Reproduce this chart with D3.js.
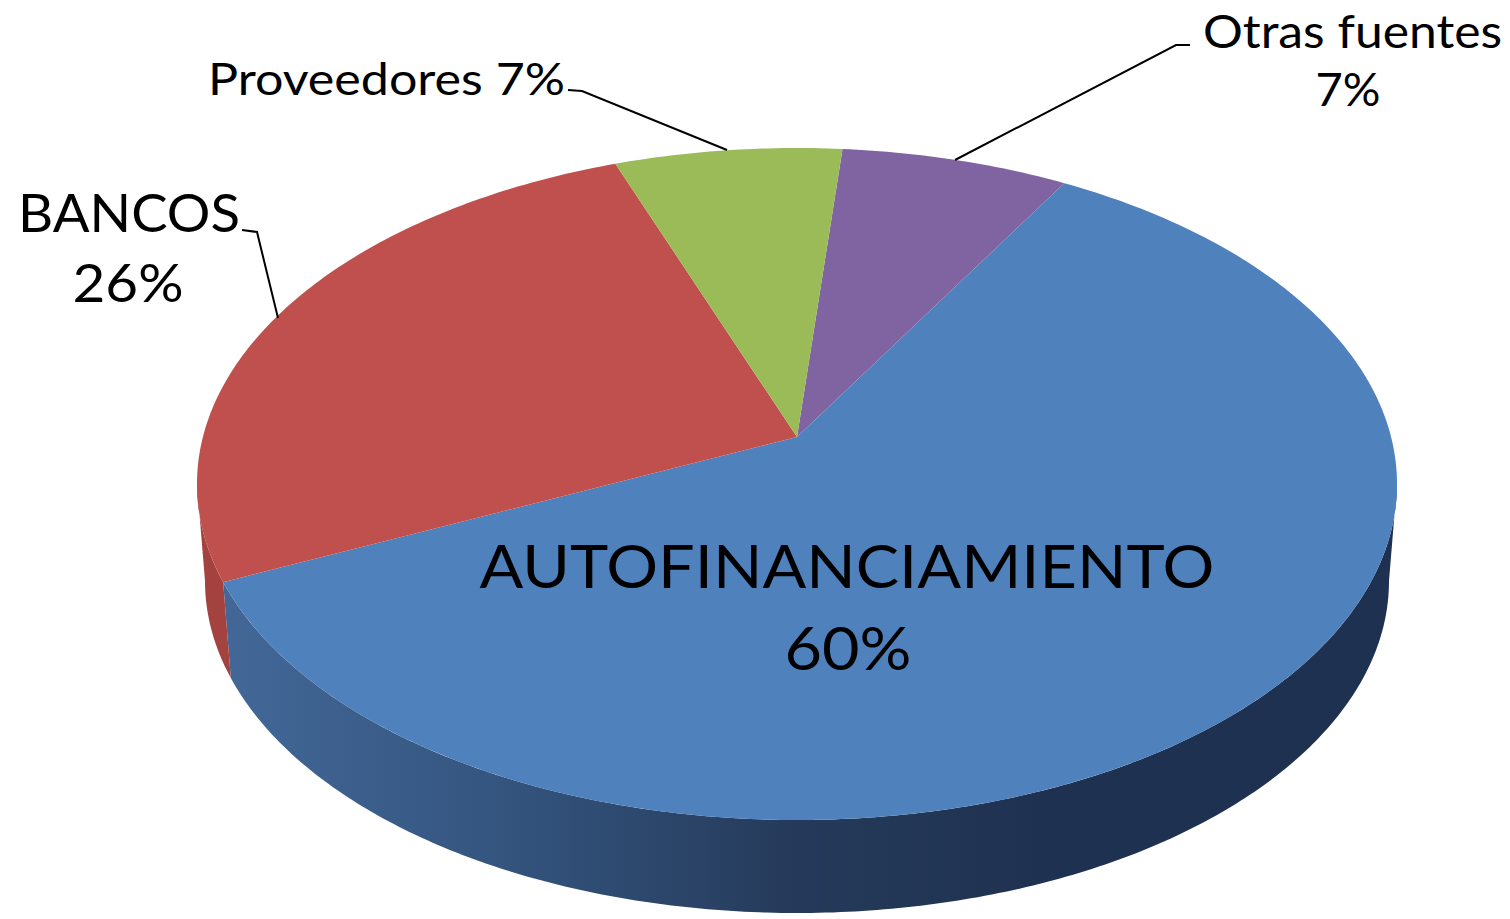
<!DOCTYPE html>
<html>
<head>
<meta charset="utf-8">
<script src="https://cdn.jsdelivr.net/npm/d3@7"></script>
<style>
  html, body { margin: 0; padding: 0; background: #fff; }
  svg text { font-family: Lato, "Liberation Sans", sans-serif; fill: #000; }
</style>
</head>
<body>
<div id="chart"></div>
<script>
// data
const categories = ["Otras fuentes", "AUTOFINANCIAMIENTO", "BANCOS", "Proveedores"];
const values = [7, 60, 26, 7];
const percentLabels = ["7%", "60%", "26%", "7%"];
const topColors = ["#8064A2", "#4F81BD", "#C0504D", "#9BBB59"];
const sideColors = ["#5f4a7a", "url(#blueSide)", "#a4423f", "#74903f"];

let width = 1510;
let height = 919;

// ellipse geometry of the 3d pie
let cx = 797, cy = 484, rx = 600, ry = 336;
let depth = 97, rxb = 592, ryb = 332;
let apex = [797, 437];
let warp = 0.13; // perspective squeeze of the far side

let svg = d3.select("#chart").append("svg")
  .attr("width", width)
  .attr("height", height);

let defs = svg.append("defs");
let grad = defs.append("linearGradient")
  .attr("id", "blueSide")
  .attr("gradientUnits", "userSpaceOnUse")
  .attr("x1", 200).attr("y1", 0).attr("x2", 1050).attr("y2", 0);
grad.append("stop").attr("offset", "0%").attr("stop-color", "#44699a");
grad.append("stop").attr("offset", "35%").attr("stop-color", "#34557f");
grad.append("stop").attr("offset", "70%").attr("stop-color", "#253a5a");
grad.append("stop").attr("offset", "100%").attr("stop-color", "#1f3150");

let pie = d3.pie().sort(null)
  .startAngle(5 * Math.PI / 180)
  .endAngle(365 * Math.PI / 180);
let arcs = pie(values);

let toT = a => a - warp * Math.sin(a);
let topPt = t => [cx + rx * Math.sin(t), cy - ry * Math.cos(t)];
let botPt = t => [cx + rxb * Math.sin(t), cy + depth - ryb * Math.cos(t)];

function rimPoints(f, t0, t1) {
  let n = Math.max(2, Math.ceil(Math.abs(t1 - t0) * 80));
  return d3.range(n + 1).map(i => f(t0 + (t1 - t0) * i / n));
}

// side walls (only the front half shows)
let sides = [];
arcs.forEach((d, i) => {
  let t0 = toT(d.startAngle), t1 = toT(d.endAngle);
  let a = Math.max(t0, Math.PI / 2), b = Math.min(t1, 3 * Math.PI / 2);
  if (b > a) {
    let pts = rimPoints(topPt, a, b).concat(rimPoints(botPt, b, a));
    sides.push({ i: i, pts: pts });
  }
});

svg.selectAll("path.side")
  .data(sides)
  .enter()
  .append("path")
  .attr("class", "side")
  .attr("d", d => d3.line()(d.pts) + "Z")
  .attr("fill", d => sideColors[d.i]);

// top face
svg.selectAll("path.slice")
  .data(arcs)
  .enter()
  .append("path")
  .attr("class", "slice")
  .attr("d", d => {
    let pts = [apex].concat(rimPoints(topPt, toT(d.startAngle), toT(d.endAngle)));
    return d3.line()(pts) + "Z";
  })
  .attr("fill", (d, i) => topColors[i]);

// labels
let labelLayout = [
  { lines: [[categories[0], 1203, 48, 299, "start", 46], [percentLabels[0], 1348, 106, 65, "middle", 46]],
    leader: [[1190, 45], [1176, 45], [955, 160]] },
  { lines: [[categories[1], 847, 588, 735, "middle", 60], [percentLabels[1], 848, 670, 127, "middle", 60]],
    leader: null },
  { lines: [[categories[2], 18, 232, 222, "start", 52], [percentLabels[2], 128, 302, 111, "middle", 52]],
    leader: [[242, 230], [257, 232], [278, 318]] },
  { lines: [[categories[3] + " " + percentLabels[3], 208, 95, 357, "start", 45]],
    leader: [[568, 90], [582, 91], [727, 150]] }
];

labelLayout.forEach(l => {
  if (l.leader)
    svg.append("path")
      .attr("d", d3.line()(l.leader))
      .attr("fill", "none")
      .attr("stroke", "#000")
      .attr("stroke-width", 2);
  l.lines.forEach(t => {
    svg.append("text")
      .attr("x", t[1])
      .attr("y", t[2])
      .attr("text-anchor", t[4])
      .attr("textLength", t[3])
      .attr("lengthAdjust", "spacingAndGlyphs")
      .style("font-size", t[5] + "px")
      .text(t[0]);
  });
});
</script>
</body>
</html>
